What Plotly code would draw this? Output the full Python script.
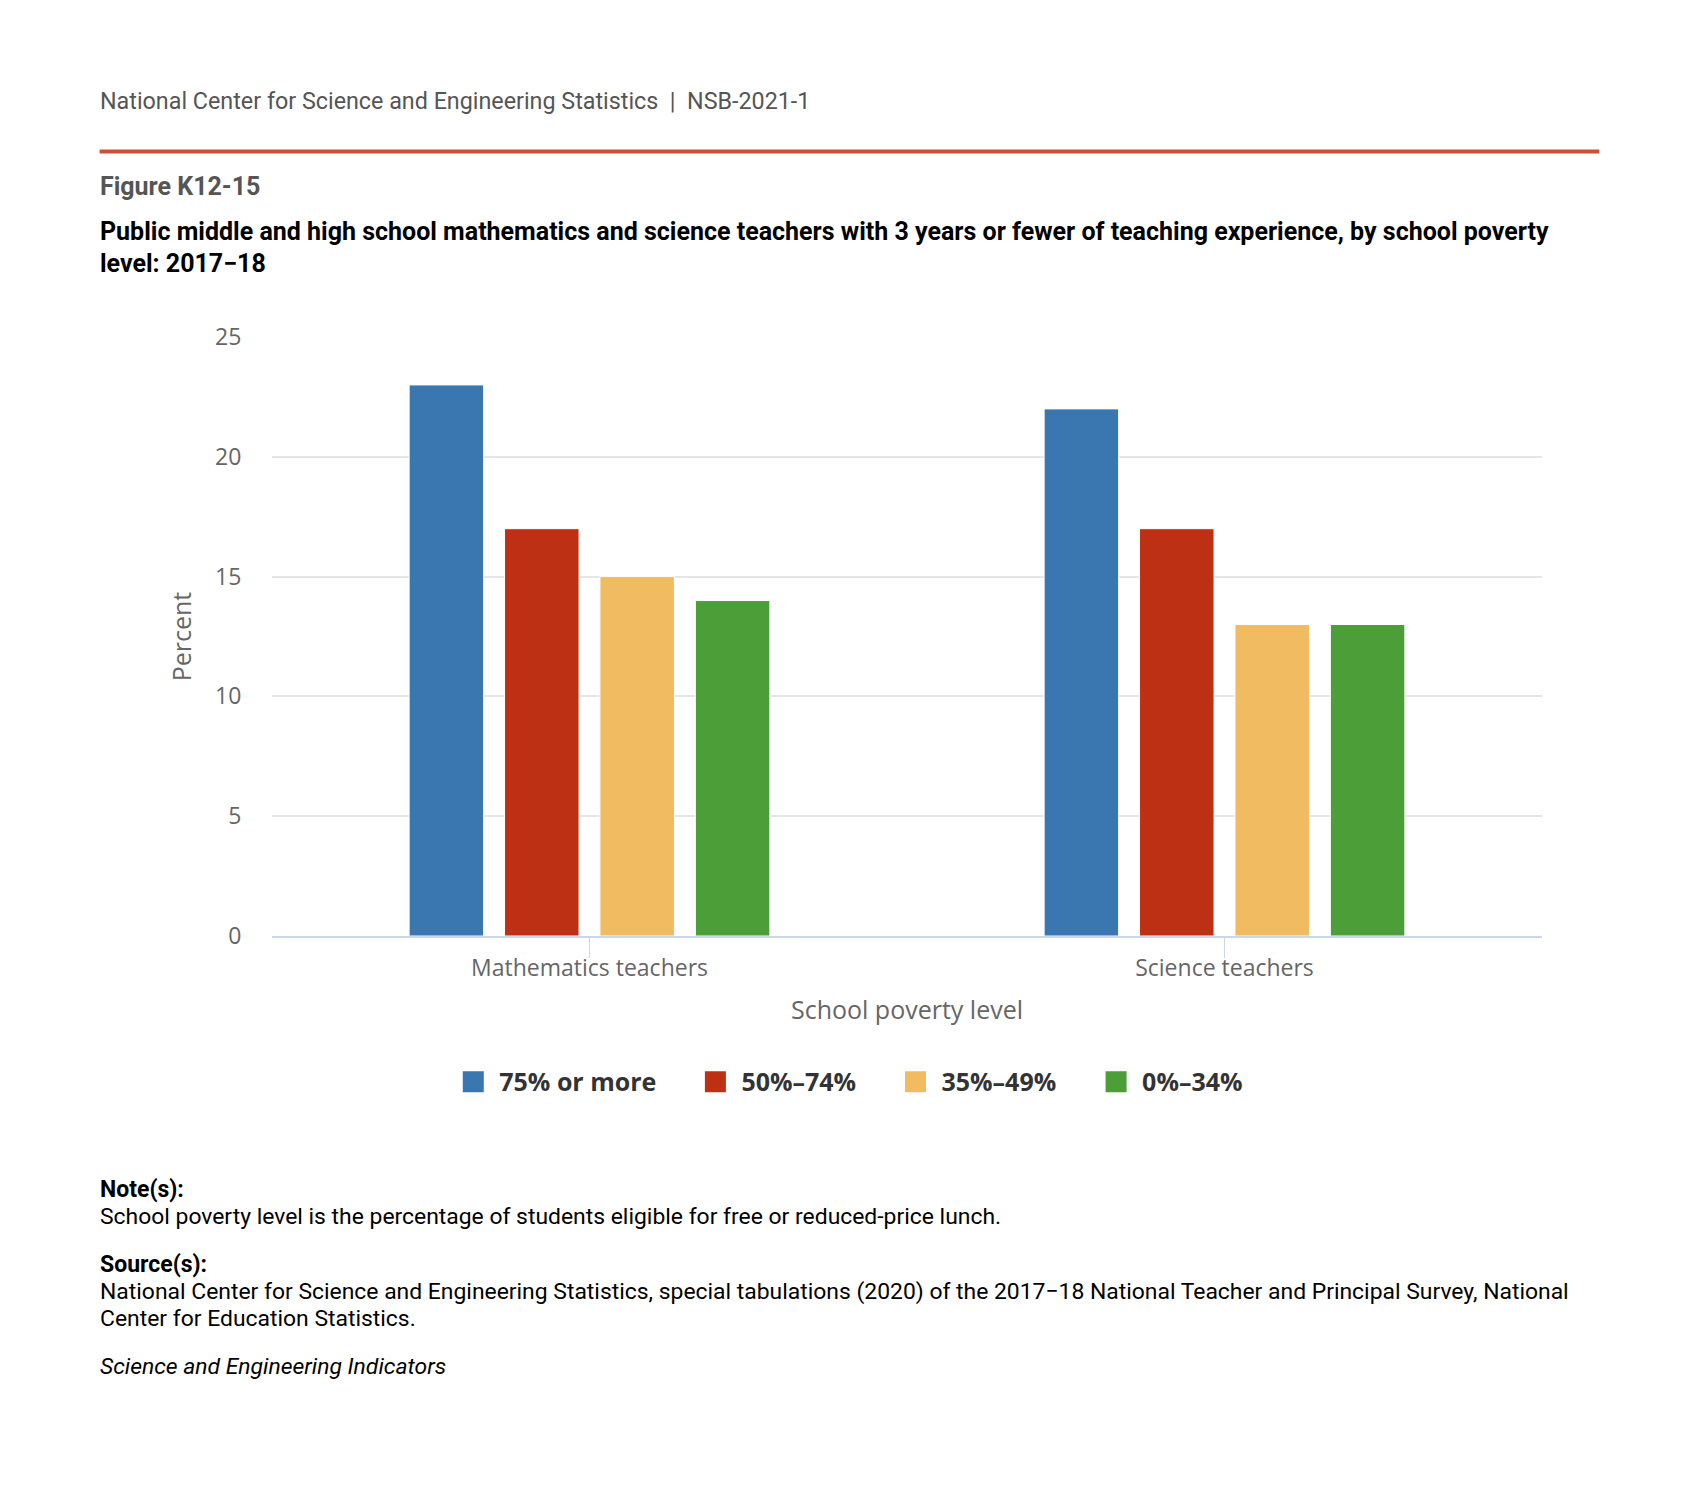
import plotly.graph_objects as go

categories = ["Mathematics teachers", "Science teachers"]
series_names = ["75% or more", "50%–74%", "35%–49%", "0%–34%"]
values_75_more = [23, 22]
values_50_74 = [17, 17]
values_35_49 = [15, 13]
values_0_34 = [14, 13]
series_values = [values_75_more, values_50_74, values_35_49, values_0_34]
colors = ["#3a76af", "#be3014", "#f1bb62", "#4b9e38"]
y_ticks = [0, 5, 10, 15, 20, 25]

W, H = 1684, 1472
L, R, T, B = 264.3, 1533.7, 328.7, 928
pw, ph = R - L, B - T

def px(x):
    return (x - L) / pw

def py(y):
    return (B - y) / ph

legend_centers = [467.5, 709.5, 909.5, 1110]
legend_ids = ["legend", "legend2", "legend3", "legend4"]

fig = go.Figure()
for i, (name, vals, col) in enumerate(zip(series_names, series_values, colors)):
    fig.add_trace(go.Bar(
        x=categories, y=vals, name=name, legendgroup=name, showlegend=False,
        marker=dict(color=col, line=dict(color="white", width=1)),
    ))
    # legend-only entry with a larger square swatch
    fig.add_trace(go.Scatter(
        x=[None], y=[None], mode="markers", name=name, legendgroup=name,
        legend=legend_ids[i], hoverinfo="skip",
        marker=dict(symbol="square", size=19, color=col, line=dict(color=col, width=5)),
    ))

legend_font = dict(family="Open Sans", size=25, color="#333333", weight="bold")
legend_common = dict(orientation="h", xanchor="left", yanchor="middle",
                     font=legend_font, itemwidth=42, itemsizing="trace",
                     bgcolor="rgba(0,0,0,0)")
layout_legends = {}
for lid, cx in zip(legend_ids, legend_centers):
    layout_legends[lid] = dict(x=px(cx - 28), y=py(1074), **legend_common)

fig.update_layout(
    width=W, height=H,
    margin=dict(l=L, r=W - R, t=T, b=H - B, autoexpand=False),
    paper_bgcolor="white", plot_bgcolor="white",
    barmode="group", bargap=0.399, bargroupgap=0.219,
    font=dict(family="Open Sans", color="#666666"),
    showlegend=True,
    **layout_legends,
)
fig.update_xaxes(
    showgrid=False, showline=True, linecolor="#ccd6eb", linewidth=2,
    ticks="outside", ticklen=20, tickcolor="#ccd6eb", tickwidth=1,
    ticklabelstandoff=-10,
    tickfont=dict(family="Open Sans", size=23, color="#666666"),
    title=dict(text="School poverty level", font=dict(family="Open Sans", size=25, color="#666666"), standoff=20),
    fixedrange=True,
)
fig.update_yaxes(
    range=[0, 25], tickvals=y_ticks, showgrid=True, gridcolor="#e6e6e6", gridwidth=2,
    zeroline=False, showline=False,
    ticks="outside", ticklen=25, tickcolor="rgba(0,0,0,0)",
    tickfont=dict(family="Open Sans", size=23, color="#666666"),
    title=dict(text="Percent", font=dict(family="Open Sans", size=25, color="#666666"), standoff=16),
    fixedrange=True,
)

fig.add_shape(type="line", xref="paper", yref="paper",
              x0=px(92), x1=px(1591), y0=py(143), y1=py(143),
              line=dict(color="#cc5037", width=4))

def text(x, y, s, size=20, color="#333333", bold=False, italic=False):
    if bold:
        s = "<b>" + s + "</b>"
    if italic:
        s = "<i>" + s + "</i>"
    fig.add_annotation(xref="paper", yref="paper", x=px(x), y=py(y), text=s,
                       showarrow=False, xanchor="left", yanchor="middle", align="left",
                       font=dict(family="Roboto", size=size, color=color))

text(90, 93, "National Center for Science and Engineering Statistics&nbsp;&nbsp;|&nbsp;&nbsp;NSB-2021-1", 23.3, "#555555")
text(90, 178, "Figure K12-15", 25, "#555555", bold=True)
text(90, 223, "Public middle and high school mathematics and science teachers with 3 years or fewer of teaching experience, by school poverty", 25, "#000000", bold=True)
text(90, 255, "level: 2017\u221218", 25, "#000000", bold=True)
text(90, 1182, "Note(s):", 23, "#000000", bold=True)
text(90, 1208.5, "School poverty level is the percentage of students eligible for free or reduced-price lunch.", 22.9, "#000000")
text(90, 1256.5, "Source(s):", 23, "#000000", bold=True)
text(90, 1283.5, "National Center for Science and Engineering Statistics, special tabulations (2020) of the 2017\u221218 National Teacher and Principal Survey, National", 22.9, "#000000")
text(90, 1310.5, "Center for Education Statistics.", 22.9, "#000000")
text(90, 1358.5, "Science and Engineering Indicators", 22.9, "#000000", italic=True)

fig.write_html("out.html")
